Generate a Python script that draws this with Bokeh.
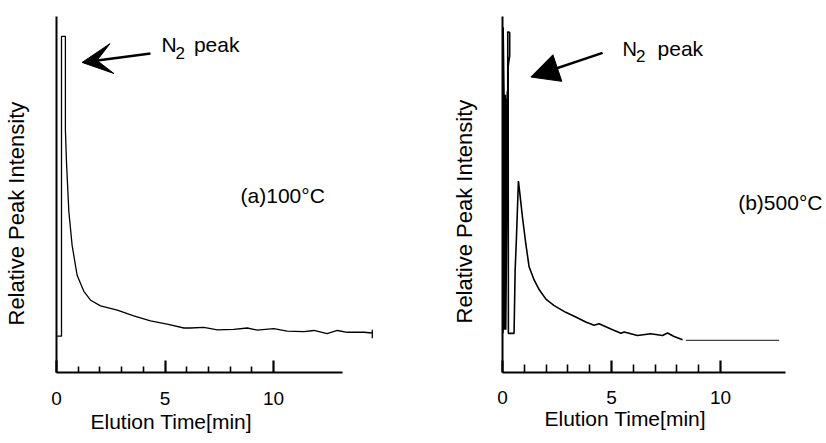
from bokeh.plotting import figure
from bokeh.layouts import row
from bokeh.models import (LinearAxis, FixedTicker, Range1d, Label, Arrow,
                          VeeHead, NormalHead, Title)
from bokeh.embed import file_html
from bokeh.resources import INLINE

# ---------------- data ----------------
x_major_ticks = [0, 5, 10]
x_minor_ticks = [1, 2, 3, 4, 6, 7, 8, 9]
x_label = "Elution Time[min]"
y_label = "Relative Peak Intensity"
a_title = "(a)100°C"
b_title = "(b)500°C"

# (a) 100 °C chromatogram: elution time [min] and relative intensity
a_time = [0.03, 0.23, 0.23, 0.41, 0.41, 0.46, 0.57, 0.72, 0.95, 1.26, 1.57,
          2.03, 2.80, 3.56, 4.33, 5.10, 5.87, 6.17, 6.79, 7.41, 8.17, 8.79,
          9.25, 10.01, 10.63, 11.40, 11.86, 12.47, 12.94, 13.40, 14.16,
          14.55, 14.55, 14.55]
a_signal = [10.2, 10.2, 94.4, 94.4, 68.2, 59.1, 45.1, 35.7, 27.3, 22.8, 20.3,
            18.7, 17.5, 15.9, 14.5, 13.6, 12.5, 12.5, 12.7, 12.0, 12.1, 12.5,
            11.9, 12.3, 11.6, 11.5, 11.8, 10.9, 11.8, 11.3, 11.3,
            11.1, 12.0, 9.6]

# (b) 500 °C chromatogram (N2 peak recorded as a dense, saturated band)
b_time = [0.02, 0.03, 0.07, 0.04, 0.10, 0.05, 0.13, 0.06, 0.16, 0.08, 0.19,
          0.10, 0.22, 0.12, 0.24, 0.15, 0.24, 0.24, 0.33, 0.33, 0.26, 0.27,
          0.53, 0.58, 0.64, 0.73, 0.79, 0.92, 1.07, 1.22, 1.45, 1.68, 1.99,
          2.37, 2.90, 3.36, 3.82, 4.20, 4.43, 4.97, 5.43, 5.58, 6.19, 6.80,
          7.34, 7.57, 7.87, 8.26]
b_signal = [11.0, 97.0, 78.0, 12.0, 77.0, 12.5, 78.0, 12.0, 76.0, 13.0, 77.0,
            12.0, 79.0, 12.5, 78.0, 12.0, 80.0, 95.7, 95.5, 89.0, 86.0, 11.0,
            11.0, 28.8, 37.9, 53.8, 50.6, 43.4, 36.1, 29.7, 26.0, 23.3, 20.6,
            18.8, 16.9, 15.6, 14.2, 13.3, 13.7, 12.2, 11.0, 11.4, 10.4, 10.9,
            10.4, 11.1, 10.1, 9.2]
b_tail_time = [8.41, 12.69]
b_tail_signal = [9.0, 9.0]

FONT = "Liberation Sans"


def build(width, height, x_end, y_end, mb_left, mb_top, mb_right, mb_bottom,
          x_axis_end, tick_standoff, minor_in, ytitle_offset,
          xtitle_offset, xtitle_standoff, y_line_height):
    p = figure(width=width, height=height,
               x_range=Range1d(0, x_end), y_range=Range1d(0, y_end),
               x_axis_type=None, y_axis_type=None,
               output_backend="svg", toolbar_location=None,
               min_border_left=mb_left, min_border_top=mb_top,
               min_border_right=mb_right, min_border_bottom=mb_bottom,
               outline_line_color=None,
               background_fill_color="white", border_fill_color="white")

    # x axis: ticks inside, labels 0 / 5 / 10
    xa = LinearAxis(ticker=FixedTicker(ticks=x_major_ticks,
                                       minor_ticks=x_minor_ticks),
                    bounds=(0, x_axis_end),
                    axis_line_width=2, axis_line_color="black",
                    major_tick_in=12, major_tick_out=0,
                    major_tick_line_width=2.2, major_tick_line_color="black",
                    minor_tick_in=minor_in, minor_tick_out=0,
                    minor_tick_line_width=1.6, minor_tick_line_color="black",
                    major_label_standoff=tick_standoff,
                    major_label_text_font=FONT,
                    major_label_text_font_size="19px",
                    major_label_text_color="black")
    p.add_layout(xa, "below")
    p.add_layout(Title(text=x_label, align="left", offset=xtitle_offset,
                       vertical_align="top", standoff=xtitle_standoff,
                       text_font=FONT, text_font_size="21px",
                       text_font_style="normal", text_color="black"),
                 "below")

    # y axis: plain line, no ticks
    ya = LinearAxis(ticker=FixedTicker(ticks=[]),
                    axis_line_width=2, axis_line_color="black",
                    major_tick_line_color=None, minor_tick_line_color=None,
                    major_tick_in=0, major_tick_out=0,
                    minor_tick_in=0, minor_tick_out=0,
                    major_label_standoff=0)
    p.add_layout(ya, "left")
    # trailing empty line keeps the rotated title away from the axis line
    p.add_layout(Title(text=y_label + "\n", align="left", offset=ytitle_offset,
                       vertical_align="middle", standoff=0,
                       text_font=FONT, text_font_size="22px",
                       text_line_height=y_line_height,
                       text_font_style="normal", text_color="black"),
                 "left")
    return p


def label(p, x, y, text, size):
    p.add_layout(Label(x=x, y=y, text=text, text_font=FONT,
                       text_font_size=size, text_color="black",
                       text_baseline="middle", text_align="left"))


# ---------------- panel (a) ----------------
pa = build(width=420, height=443, x_end=15.85, y_end=100,
           mb_left=56, mb_top=16, mb_right=20, mb_bottom=68,
           x_axis_end=13.2, tick_standoff=19, minor_in=6,
           ytitle_offset=47, xtitle_offset=34, xtitle_standoff=4,
           y_line_height=1.05)
pa.line(a_time, a_signal, line_color="black", line_width=1.3)
pa.add_layout(Arrow(end=VeeHead(size=30, fill_color="black",
                                line_color="black"),
                    x_start=4.33, y_start=89.6, x_end=1.18, y_end=87.1,
                    line_width=2.5, line_color="black"))
label(pa, 4.84, 92.1, "N", "21px")
label(pa, 5.48, 89.7, "2", "17px")
label(pa, 6.33, 92.1, "peak", "21px")
label(pa, 8.48, 49.6, a_title, "21px")

# ---------------- panel (b) ----------------
pb = build(width=406, height=443, x_end=14.86, y_end=100,
           mb_left=82, mb_top=6, mb_right=0, mb_bottom=71,
           x_axis_end=13.0, tick_standoff=18, minor_in=8,
           ytitle_offset=49, xtitle_offset=42, xtitle_standoff=0,
           y_line_height=1.0)
pb.line(b_time, b_signal, line_color="black", line_width=1.6)
pb.line(b_tail_time, b_tail_signal, line_color="#444444", line_width=1.2)
pb.add_layout(Arrow(end=NormalHead(size=28, fill_color="black",
                                   line_color="black"),
                    x_start=4.59, y_start=89.8, x_end=1.30, y_end=83.0,
                    line_width=2.5, line_color="black"))
label(pb, 5.50, 90.9, "N", "20px")
label(pb, 6.12, 88.9, "2", "17px")
label(pb, 7.11, 90.9, "peak", "21px")
label(pb, 10.81, 47.8, b_title, "21px")

layout = row(pa, pb)
open("out.html", "w").write(file_html(layout, INLINE))
